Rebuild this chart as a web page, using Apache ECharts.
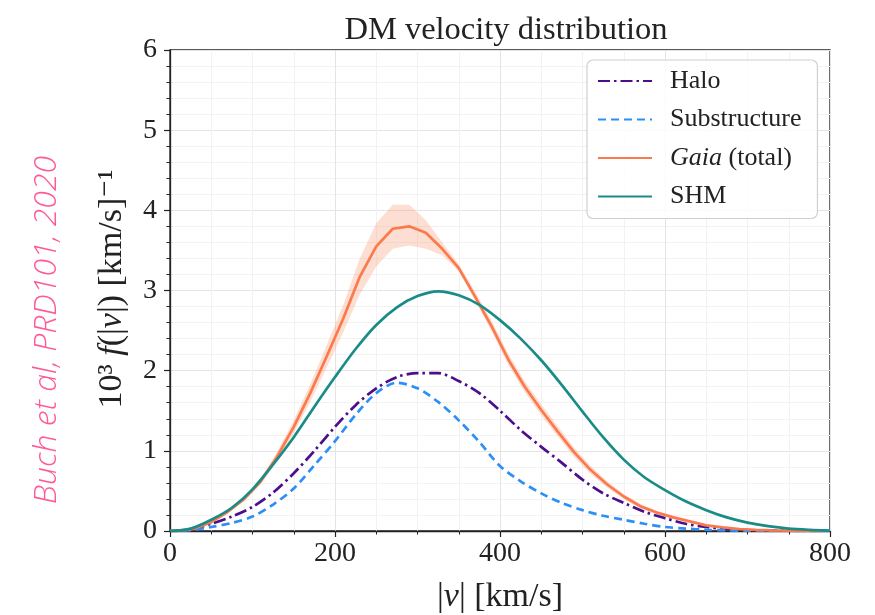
<!DOCTYPE html>
<html>
<head>
<meta charset="utf-8">
<script src="https://cdn.jsdelivr.net/npm/echarts@6/dist/echarts.min.js"></script>
<style>
html,body{margin:0;padding:0;background:#fff;}
#chart{width:875px;height:615px;}
</style>
</head>
<body>
<div id="chart"></div>
<script>
// ---- data ----
var vSmooth = [0,25,50,75,100,125,150,175,200,225,250,275,300,325,350,375,400,425,450,475,500,525,550,575,600,625,650,675,700,725,750,775,800];
var halo = [0,0.02,0.09,0.18,0.30,0.48,0.72,1.00,1.30,1.57,1.78,1.92,1.97,1.97,1.87,1.72,1.50,1.26,1.05,0.85,0.64,0.47,0.35,0.24,0.16,0.09,0.05,0.025,0.012,0.006,0.003,0.001,0];
var substructure = [0,0.01,0.05,0.10,0.18,0.33,0.53,0.82,1.12,1.45,1.72,1.85,1.78,1.61,1.38,1.11,0.81,0.62,0.47,0.35,0.26,0.19,0.14,0.09,0.05,0.03,0.015,0.007,0.003,0.001,0,0,0];
var shm = [0,0.03,0.14,0.29,0.52,0.83,1.17,1.55,1.92,2.27,2.57,2.79,2.93,2.99,2.94,2.82,2.63,2.40,2.13,1.82,1.49,1.17,0.89,0.67,0.51,0.37,0.26,0.17,0.105,0.06,0.03,0.015,0.006];

var vGaia = [0,10,30,50,70,90,110,130,150,170,190,210,230,250,270,290,310,330,350,370,390,410,430,450,470,490,510,530,550,570,590,610,630,650,670,690,710,730,750,770,790];
var gaia = [0,0.005,0.03,0.11,0.24,0.40,0.62,0.93,1.30,1.72,2.18,2.65,3.17,3.55,3.77,3.80,3.72,3.52,3.28,2.92,2.55,2.14,1.80,1.51,1.24,0.98,0.76,0.58,0.43,0.31,0.23,0.17,0.12,0.07,0.045,0.025,0.015,0.008,0.004,0.002,0.001];
var gaiaLow = [0,0.004,0.025,0.10,0.22,0.37,0.58,0.87,1.22,1.61,2.04,2.48,2.95,3.30,3.52,3.56,3.52,3.44,3.24,2.87,2.49,2.07,1.73,1.44,1.18,0.92,0.71,0.54,0.40,0.28,0.21,0.15,0.11,0.06,0.04,0.022,0.013,0.007,0.0035,0.0018,0.0009];
var gaiaHigh = [0,0.006,0.035,0.12,0.26,0.43,0.66,0.99,1.38,1.83,2.32,2.82,3.40,3.84,4.07,4.07,3.88,3.60,3.33,2.98,2.62,2.21,1.87,1.58,1.31,1.04,0.81,0.62,0.46,0.34,0.25,0.19,0.13,0.08,0.05,0.028,0.017,0.009,0.0045,0.0022,0.0011];

var xTicks = [0,200,400,600,800];
var yTicks = [0,1,2,3,4,5,6];
var seriesNames = ['Halo','Substructure','Gaia (total)','SHM'];

// ---- build ----
function pairs(xs, ys){ return xs.map(function(x,i){ return [x, ys[i]]; }); }
var bandData = vGaia.map(function(v,i){ return [v, gaiaLow[i], gaiaHigh[i]]; });

var serif = "'Liberation Serif','DejaVu Serif',serif";
var chart = echarts.init(document.getElementById('chart'), null, {renderer:'canvas'});

var option = {
  animation: false,
  backgroundColor: '#ffffff',
  title: {
    text: 'DM velocity distribution',
    left: 501, top: 9, textAlign: 'center',
    textStyle: {fontFamily: serif, fontWeight: 'normal', fontSize: 32.5, color: '#222'}
  },
  grid: {left: 170, right: 45, top: 50, bottom: 84, outerBoundsMode: 'none', containLabel: false,
    show: true, borderColor: '#222', borderWidth: 1.3, backgroundColor: 'transparent'},
  legend: {
    data: seriesNames,
    orient: 'vertical',
    left: 587, top: 60,
    padding: [8, 16, 9, 10],
    itemWidth: 54, itemHeight: 14, itemGap: 12.5,
    backgroundColor: 'rgba(255,255,255,0.85)',
    borderColor: '#d0d0d0', borderWidth: 1.2, borderRadius: 6,
    itemStyle: {opacity: 0},
    formatter: function(n){ return n === 'Gaia (total)' ? '{i|Gaia} (total)' : n; },
    textStyle: {fontFamily: serif, fontSize: 26, color: '#222', padding: [0,0,0,13], lineHeight: 26,
      rich: {i: {fontFamily: serif, fontStyle: 'italic', fontSize: 26, color: '#222'}}}
  },
  xAxis: {
    type: 'value', min: 0, max: 800, interval: 200,
    name: '{a||}{v|v}{a|| [km/s]}', nameLocation: 'middle', nameGap: 49,
    nameTextStyle: {fontFamily: serif, fontSize: 34, color: '#222',
      rich: {a: {fontFamily: serif, fontSize: 34, color: '#222'}, v: {fontFamily: serif, fontSize: 34, fontStyle: 'italic', color: '#222'}}},
    axisLine: {show: true, lineStyle: {color: '#222', width: 1.3}},
    axisTick: {show: true, length: 6, lineStyle: {color: '#222', width: 1.2}},
    minorTick: {show: true, splitNumber: 4, length: 3.5, lineStyle: {color: '#222', width: 1}},
    splitLine: {show: true, lineStyle: {color: '#e4e4e4', width: 1}},
    minorSplitLine: {show: true, lineStyle: {color: '#f2f2f2', width: 1}},
    axisLabel: {fontFamily: serif, fontSize: 28, color: '#222', margin: 9,
      formatter: function(v){ return xTicks.indexOf(v) >= 0 ? String(v) : ''; }}
  },
  yAxis: {
    type: 'value', min: 0, max: 6, interval: 1,
    axisLine: {show: true, lineStyle: {color: '#222', width: 1.3}},
    axisTick: {show: true, length: 6, lineStyle: {color: '#222', width: 1.2}},
    minorTick: {show: true, splitNumber: 5, length: 3.5, lineStyle: {color: '#222', width: 1}},
    splitLine: {show: true, lineStyle: {color: '#e4e4e4', width: 1}},
    minorSplitLine: {show: true, lineStyle: {color: '#f2f2f2', width: 1}},
    axisLabel: {fontFamily: serif, fontSize: 28, color: '#222', margin: 13,
      formatter: function(v){ return yTicks.indexOf(v) >= 0 ? String(v) : ''; }}
  },
  graphic: [
    {type: 'text', x: 112, y: 289, rotation: Math.PI/2,
      style: {text: '10³ {i|f}(|{i|v}|) [km/s]⁻¹', fontFamily: serif, fontSize: 34, fill: '#222',
        align: 'center', verticalAlign: 'middle',
        rich: {i: {fontFamily: serif, fontSize: 34, fontStyle: 'italic', fill: '#222'}}}},
    {type: 'text', x: 47, y: 330, rotation: Math.PI/2,
      style: {text: 'Buch et al, PRD101, 2020', fontFamily: "'Open Sans','Noto Sans',sans-serif", fontStyle: 'italic', fontWeight: 300, fontSize: 32, fill: '#ff5a98',
        align: 'center', verticalAlign: 'middle'}}
  ],
  series: [
    {name: 'band', type: 'custom', silent: true, z: 1,
      data: bandData,
      encode: {x: 0, y: [1, 2]},
      renderItem: function(params, api){
        if (params.dataIndex !== 0) return null;
        var upper = [], lower = [];
        for (var i = 0; i < bandData.length; i++) {
          upper.push(api.coord([bandData[i][0], bandData[i][2]]));
          lower.push(api.coord([bandData[i][0], bandData[i][1]]));
        }
        var pts = upper.concat(lower.reverse());
        return {type: 'polygon', shape: {points: pts}, style: {fill: 'rgba(250,160,125,0.35)', stroke: 'none'}};
      }},
    {name: 'Halo', type: 'line', data: pairs(vSmooth, halo), symbol: 'none', smooth: 0.3, z: 3,
      lineStyle: {color: '#4b0f8c', width: 2.7, type: [12, 4, 2.5, 4]}, itemStyle: {color: '#4b0f8c'}},
    {name: 'Substructure', type: 'line', data: pairs(vSmooth, substructure), symbol: 'none', smooth: 0.3, z: 3,
      lineStyle: {color: '#2b8ff7', width: 2.7, type: [8, 5]}, itemStyle: {color: '#2b8ff7'}},
    {name: 'Gaia (total)', type: 'line', data: pairs(vGaia, gaia), symbol: 'none', z: 4,
      lineStyle: {color: '#fb7a4c', width: 2.7}, itemStyle: {color: '#fb7a4c'}},
    {name: 'SHM', type: 'line', data: pairs(vSmooth, shm), symbol: 'none', smooth: 0.3, z: 4,
      lineStyle: {color: '#1a8c88', width: 2.7}, itemStyle: {color: '#1a8c88'}}
  ]
};
chart.setOption(option);
</script>
</body>
</html>
